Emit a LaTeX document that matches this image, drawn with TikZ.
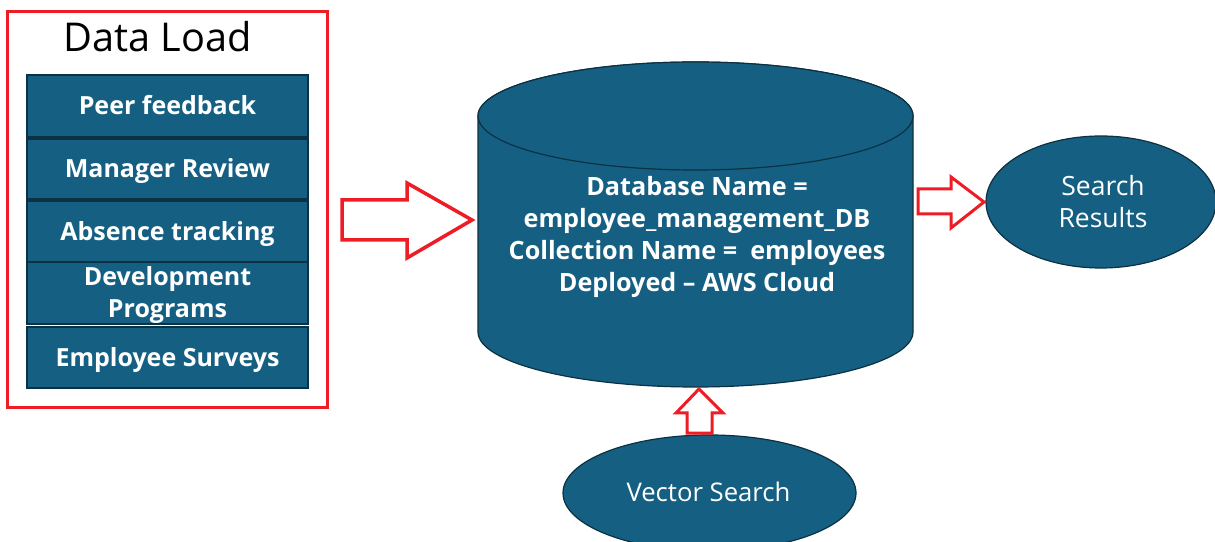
\documentclass[tikz,border=0pt]{standalone}
\usepackage{fontspec}
\setmainfont{Open Sans}
\usetikzlibrary{shapes.geometric}
\definecolor{accent}{HTML}{156082}
\definecolor{edge}{HTML}{0B3142}
\definecolor{redline}{HTML}{EE1C25}
\begin{document}
\begin{tikzpicture}[x=1pt,y=1pt,
  listbox/.style={draw=edge, line width=1.5pt, fill=accent, text=white,
    minimum width=281pt, inner sep=0pt, align=center,
    font=\bfseries\fontsize{25}{32}\selectfont},
  blockarrow/.style={draw=redline, line width=3.5pt, fill=white, line join=miter},
  oval/.style={ellipse, draw=edge, line width=1.2pt, fill=accent, text=white,
    inner sep=0pt, align=center},
  ovaltext/.style={text=white, align=center, font=\fontsize{26.5}{32}\selectfont, anchor=base},
]
\useasboundingbox (0,0) rectangle (1215,541);
% frame
\draw[redline, line width=3pt] (7,133) rectangle (327,529);
\node[anchor=base, font=\fontsize{39.7}{48}\selectfont] (title) at (157.5,489) {Data Load};
% boxes
\node[listbox, minimum height=62pt, text height=17.5pt, text depth=0pt] (b1) at (167.5,435) {Peer feedback};
\node[listbox, minimum height=60pt, text height=17.5pt, text depth=0pt] (b2) at (167.5,372) {Manager Review};
\node[listbox, minimum height=61pt, text height=17.5pt, text depth=0pt] (b3) at (167.5,309.5) {Absence tracking};
\node[listbox, minimum height=62pt] (b4) at (167.5,248) {};
\node[text=white, align=center, font=\bfseries\fontsize{25}{32}\selectfont, anchor=base] (b4t) at (167.5,223) {Development\\Programs};
\node[listbox, minimum height=61pt, text height=17.5pt, text depth=0pt] (b5) at (167.5,183.5) {Employee Surveys};
% cylinder
\draw[draw=edge, line width=1.2pt, fill=accent]
  (478,425) -- (478,209) arc[start angle=180, end angle=360, x radius=217.5, y radius=55]
  -- (913,425) arc[start angle=0, end angle=180, x radius=217.5, y radius=54] -- cycle;
\draw[draw=edge, line width=1.2pt, fill=accent] (695.5,425) ellipse[x radius=217.5, y radius=54];
\node[text=white, align=center, font=\bfseries\fontsize{25.2}{32}\selectfont, anchor=base] (db) at (697,249)
  {Database Name =\\employee\_management\_DB\\Collection Name =\ \ employees\\Deployed -- AWS Cloud};
% ovals
\node[oval, minimum width=230pt, minimum height=132pt] (sr) at (1101,339) {};
\node[ovaltext] (srt) at (1103,313) {Search\\Results};
\node[oval, minimum width=293pt, minimum height=116pt] (vs) at (709.5,48) {};
\node[ovaltext, font=\fontsize{25.7}{32}\selectfont] (vst) at (708.5,40) {Vector Search};
% block arrows
\draw[blockarrow] (342,341) -- (407,341) -- (407,358) -- (472,321) -- (407,283) -- (407,301) -- (342,301) -- cycle;
\draw[blockarrow, line width=3pt] (918,352) -- (951,352) -- (951,364) -- (984,339) -- (951,313) -- (951,327) -- (918,327) -- cycle;
\draw[blockarrow, line width=3pt] (687,108) -- (687,128) -- (676,128) -- (699,152) -- (723,128) -- (712,128) -- (712,108) -- cycle;
\end{tikzpicture}
\end{document}
